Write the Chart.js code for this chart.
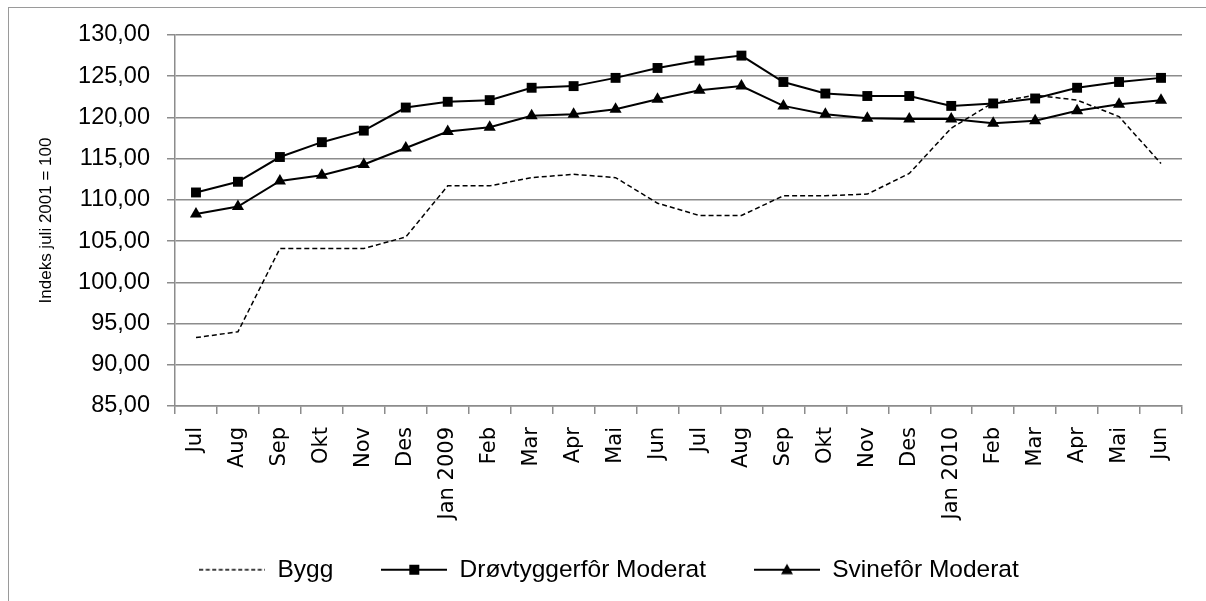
<!DOCTYPE html>
<html lang="no">
<head>
    <meta charset="UTF-8">
    <title>Indeks juli 2001 = 100</title>
    <script src="https://cdn.jsdelivr.net/npm/chart.js"></script>
    <style>
        body { margin: 0; background: #fff; }
        .ramme { position: absolute; left: 8px; top: 7px; width: 1300px; height: 700px;
                 border-left: 1.5px solid #9a9a9a; border-top: 1.5px solid #9a9a9a; }
        canvas { position: absolute; left: 0; top: 0; }
    </style>
</head>
<body>
    <div class="ramme"></div>
    <canvas id="myChart" width="1206" height="601"></canvas>
<script>
    const maaneder = ['Jul', 'Aug', 'Sep', 'Okt', 'Nov', 'Des', 'Jan 2009', 'Feb', 'Mar', 'Apr', 'Mai', 'Jun',
                      'Jul', 'Aug', 'Sep', 'Okt', 'Nov', 'Des', 'Jan 2010', 'Feb', 'Mar', 'Apr', 'Mai', 'Jun']

    const bygg = [93.3, 94.0, 104.1, 104.1, 104.1, 105.5, 111.7, 111.7, 112.7, 113.1, 112.7, 109.6,
                  108.1, 108.1, 110.5, 110.5, 110.7, 113.2, 118.7, 121.8, 122.7, 122.1, 120.1, 114.4]

    const drovtygger = [110.9, 112.2, 115.2, 117.0, 118.4, 121.2, 121.9, 122.1, 123.6, 123.8, 124.8, 126.0,
                        126.9, 127.5, 124.3, 122.9, 122.6, 122.6, 121.4, 121.7, 122.3, 123.6, 124.3, 124.8]

    const svinefor = [108.3, 109.2, 112.3, 113.0, 114.3, 116.3, 118.3, 118.8, 120.2, 120.4, 121.0, 122.2,
                      123.3, 123.8, 121.4, 120.4, 119.9, 119.8, 119.8, 119.3, 119.6, 120.8, 121.6, 122.1]

    const serienavn = ['Bygg', 'Drøvtyggerfôr Moderat', 'Svinefôr Moderat']

    const grå = '#8c8c8c'

    // små bilder til forklaringen: linje med markør i midten
    function legendebilde(stil){
        const c = document.createElement('canvas')
        c.width = 66
        c.height = 16
        const g = c.getContext('2d')
        g.strokeStyle = '#000'
        g.fillStyle = '#000'
        if(stil == 'dash'){
            g.lineWidth = 1.5
            g.setLineDash([4, 2.5])
        } else {
            g.lineWidth = 2
        }
        g.beginPath()
        g.moveTo(0, 8)
        g.lineTo(66, 8)
        g.stroke()
        if(stil == 'rect'){
            g.fillRect(28, 3, 10, 10)
        }
        if(stil == 'triangle'){
            g.beginPath()
            g.moveTo(33, 2)
            g.lineTo(39, 12.5)
            g.lineTo(27, 12.5)
            g.closePath()
            g.fill()
        }
        return c
    }
    const legendestiler = [legendebilde('dash'), legendebilde('rect'), legendebilde('triangle')]

    const ctx = document.getElementById('myChart')

    const grafikk = new Chart(ctx, {
        type: 'line',
        data: {
            labels: maaneder,
            datasets: [{
                label: serienavn[0],
                data: bygg,
                borderColor: '#000',
                borderWidth: 1.5,
                borderDash: [5, 3],
                pointRadius: 0,
                tension: 0
            },
            {
                label: serienavn[1],
                data: drovtygger,
                borderColor: '#000',
                backgroundColor: '#000',
                borderWidth: 2,
                pointStyle: 'rect',
                pointRadius: 7,
                pointBorderWidth: 0,
                tension: 0
            },
            {
                label: serienavn[2],
                data: svinefor,
                borderColor: '#000',
                backgroundColor: '#000',
                borderWidth: 2,
                pointStyle: 'triangle',
                pointRadius: 7,
                pointBorderWidth: 0,
                tension: 0
            }]
        },
        options: {
            responsive: false,
            animation: false,
            layout: {
                padding: { left: 36, right: 24, top: 35, bottom: 9 }
            },
            plugins: {
                tooltip: { enabled: false },
                legend: {
                    position: 'bottom',
                    labels: {
                        usePointStyle: true,
                        pointStyleWidth: 66,
                        padding: 48,
                        color: '#000',
                        font: { family: 'Liberation Sans', size: 24.5 },
                        generateLabels: (chart) => serienavn.map((navn, i) => ({
                            text: navn,
                            fontColor: '#000',
                            pointStyle: legendestiler[i],
                            datasetIndex: i,
                            hidden: false,
                            lineWidth: 0
                        }))
                    }
                }
            },
            scales: {
                x: {
                    offset: true,
                    afterFit: (scale) => {
                        scale.height = 103.5
                        // etikettene er lengre enn aksens boks, så ikke klipp dem
                        scale._computeLabelArea = () => null
                    },
                    grid: {
                        offset: true,
                        drawOnChartArea: false,
                        drawTicks: true,
                        tickLength: 8,
                        color: grå,
                        lineWidth: 1.5
                    },
                    border: { display: true, color: grå, width: 1.5 },
                    ticks: {
                        autoSkip: false,
                        maxRotation: 90,
                        minRotation: 90,
                        padding: 13,
                        color: '#000',
                        font: { family: 'DejaVu Sans', size: 21 }
                    }
                },
                y: {
                    min: 85,
                    max: 130,
                    afterFit: (scale) => { scale.width = 139 },
                    grid: {
                        color: grå,
                        lineWidth: 1.5,
                        drawTicks: true,
                        tickLength: 8
                    },
                    border: { display: true, color: grå, width: 1.5 },
                    ticks: {
                        stepSize: 5,
                        padding: 17,
                        color: '#000',
                        font: { family: 'Liberation Sans', size: 23.5 },
                        callback: (verdi) => verdi.toFixed(2).replace('.', ',')
                    },
                    title: {
                        display: true,
                        text: 'Indeks juli 2001 = 100',
                        color: '#000',
                        padding: 0,
                        font: { family: 'Liberation Sans', size: 17 }
                    }
                }
            }
        }
    })
</script>
</body>
</html>
